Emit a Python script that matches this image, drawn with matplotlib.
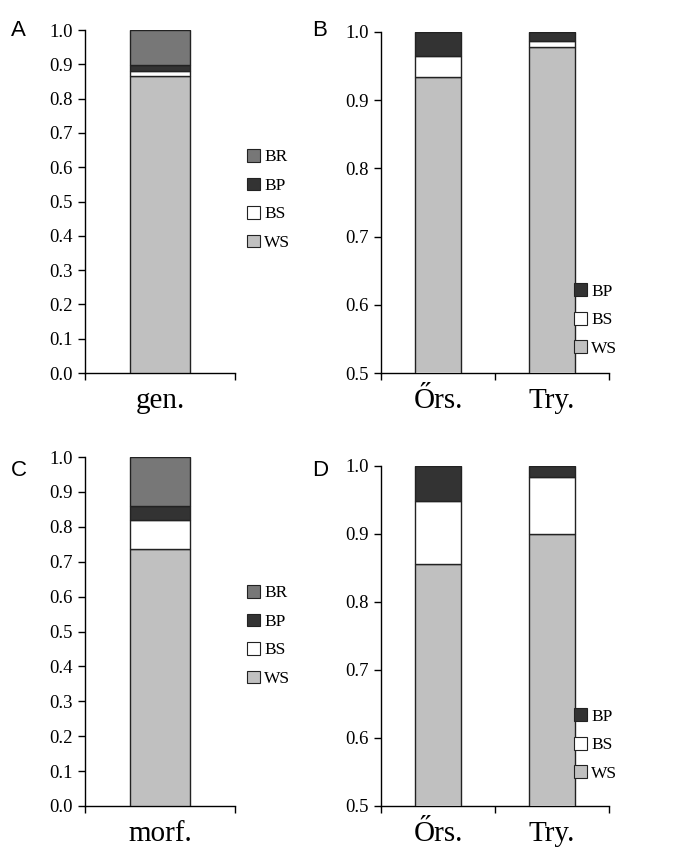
import matplotlib.pyplot as plt
from matplotlib.patches import Patch
from matplotlib.ticker import FixedLocator
import numpy as np

# Panel A / C: single category, four segments
cat_gen = ["gen."]
cat_morf = ["morf."]
gen_ws = [0.866]
gen_bs = [0.014]
gen_bp = [0.018]
gen_br = [0.102]
morf_ws = [0.736]
morf_bs = [0.083]
morf_bp = [0.041]
morf_br = [0.140]

# Panel B / D: two categories, three segments
cat_pop = ["Őrs.", "Try."]
b_ws = [0.934, 0.978]
b_bs = [0.031, 0.009]
b_bp = [0.035, 0.013]
d_ws = [0.856, 0.900]
d_bs = [0.092, 0.084]
d_bp = [0.052, 0.016]

colors = {"WS": "#c0c0c0", "BS": "#ffffff", "BP": "#333333", "BR": "#777777"}

plt.rcParams['font.family'] = ['Liberation Serif', 'DejaVu Serif']

fig = plt.figure(figsize=(6.75, 8.56), dpi=100)
W, H = 675, 856


def add_ax(x0, y0, x1, y1):
    return fig.add_axes([x0 / W, 1 - y1 / H, (x1 - x0) / W, (y1 - y0) / H])


def style(ax, cats, ymin, ymax, yticks, fmt):
    n = len(cats)
    x = np.arange(n)
    ax.set_xlim(-0.5, n - 0.5)
    ax.set_ylim(ymin, ymax)
    ax.set_yticks(yticks)
    ax.set_yticklabels([fmt % v for v in yticks], fontsize=13.5)
    ax.set_xticks(x)
    ax.set_xticklabels(cats, fontsize=21)
    ax.tick_params(axis='x', which='major', length=0, pad=11)
    ax.xaxis.set_minor_locator(FixedLocator(np.arange(n + 1) - 0.5))
    ax.tick_params(axis='x', which='minor', length=5, direction='out', width=1)
    ax.tick_params(axis='y', length=5, direction='out', width=1, pad=4)
    for s in ['top', 'right']:
        ax.spines[s].set_visible(False)
    for s in ['left', 'bottom']:
        ax.spines[s].set_linewidth(1)


def stack(ax, cats, series, names):
    x = np.arange(len(cats))
    bottom = np.zeros(len(cats))
    for vals, name in zip(series, names):
        ax.bar(x, vals, width=0.4, bottom=bottom, color=colors[name],
               edgecolor='#222222', linewidth=1, zorder=3)
        bottom = bottom + np.array(vals)


def legend(ax, names, xpix, ypix):
    handles = [Patch(facecolor=colors[n], edgecolor='#222222', linewidth=0.8, label=n)
               for n in names]
    fig.legend(handles=handles, loc='center left',
               bbox_to_anchor=(xpix / W, 1 - ypix / H), frameon=False,
               fontsize=12.5, handlelength=0.75, handleheight=0.75,
               handletextpad=0.25, labelspacing=0.7, borderpad=0)


ticks_full = np.round(np.arange(0, 1.01, 0.1), 1)
ticks_half = np.round(np.arange(0.5, 1.01, 0.1), 1)

# A
axA = add_ax(85, 30, 235, 373)
stack(axA, cat_gen, [gen_ws, gen_bs, gen_bp, gen_br], ["WS", "BS", "BP", "BR"])
style(axA, cat_gen, 0, 1.0, ticks_full, "%.1f")
legend(axA, ["BR", "BP", "BS", "WS"], 238, 200)

# B
axB = add_ax(381, 32, 609, 373)
stack(axB, cat_pop, [b_ws, b_bs, b_bp], ["WS", "BS", "BP"])
style(axB, cat_pop, 0.5, 1.0, ticks_half, "%.1f")
legend(axB, ["BP", "BS", "WS"], 565, 320)

# C
axC = add_ax(85, 457, 235, 806)
stack(axC, cat_morf, [morf_ws, morf_bs, morf_bp, morf_br], ["WS", "BS", "BP", "BR"])
style(axC, cat_morf, 0, 1.0, ticks_full, "%.1f")
legend(axC, ["BR", "BP", "BS", "WS"], 238, 636)

# D
axD = add_ax(381, 466, 609, 806)
stack(axD, cat_pop, [d_ws, d_bs, d_bp], ["WS", "BS", "BP"])
style(axD, cat_pop, 0.5, 1.0, ticks_half, "%.1f")
legend(axD, ["BP", "BS", "WS"], 565, 745)

for lab, xp, yp in [("A", 11, 30), ("B", 312, 30), ("C", 11, 470), ("D", 312, 470)]:
    fig.text(xp / W, 1 - yp / H, lab, fontsize=16, family='Liberation Sans',
             va='center', ha='left')

fig.savefig("out.png", dpi=100)
